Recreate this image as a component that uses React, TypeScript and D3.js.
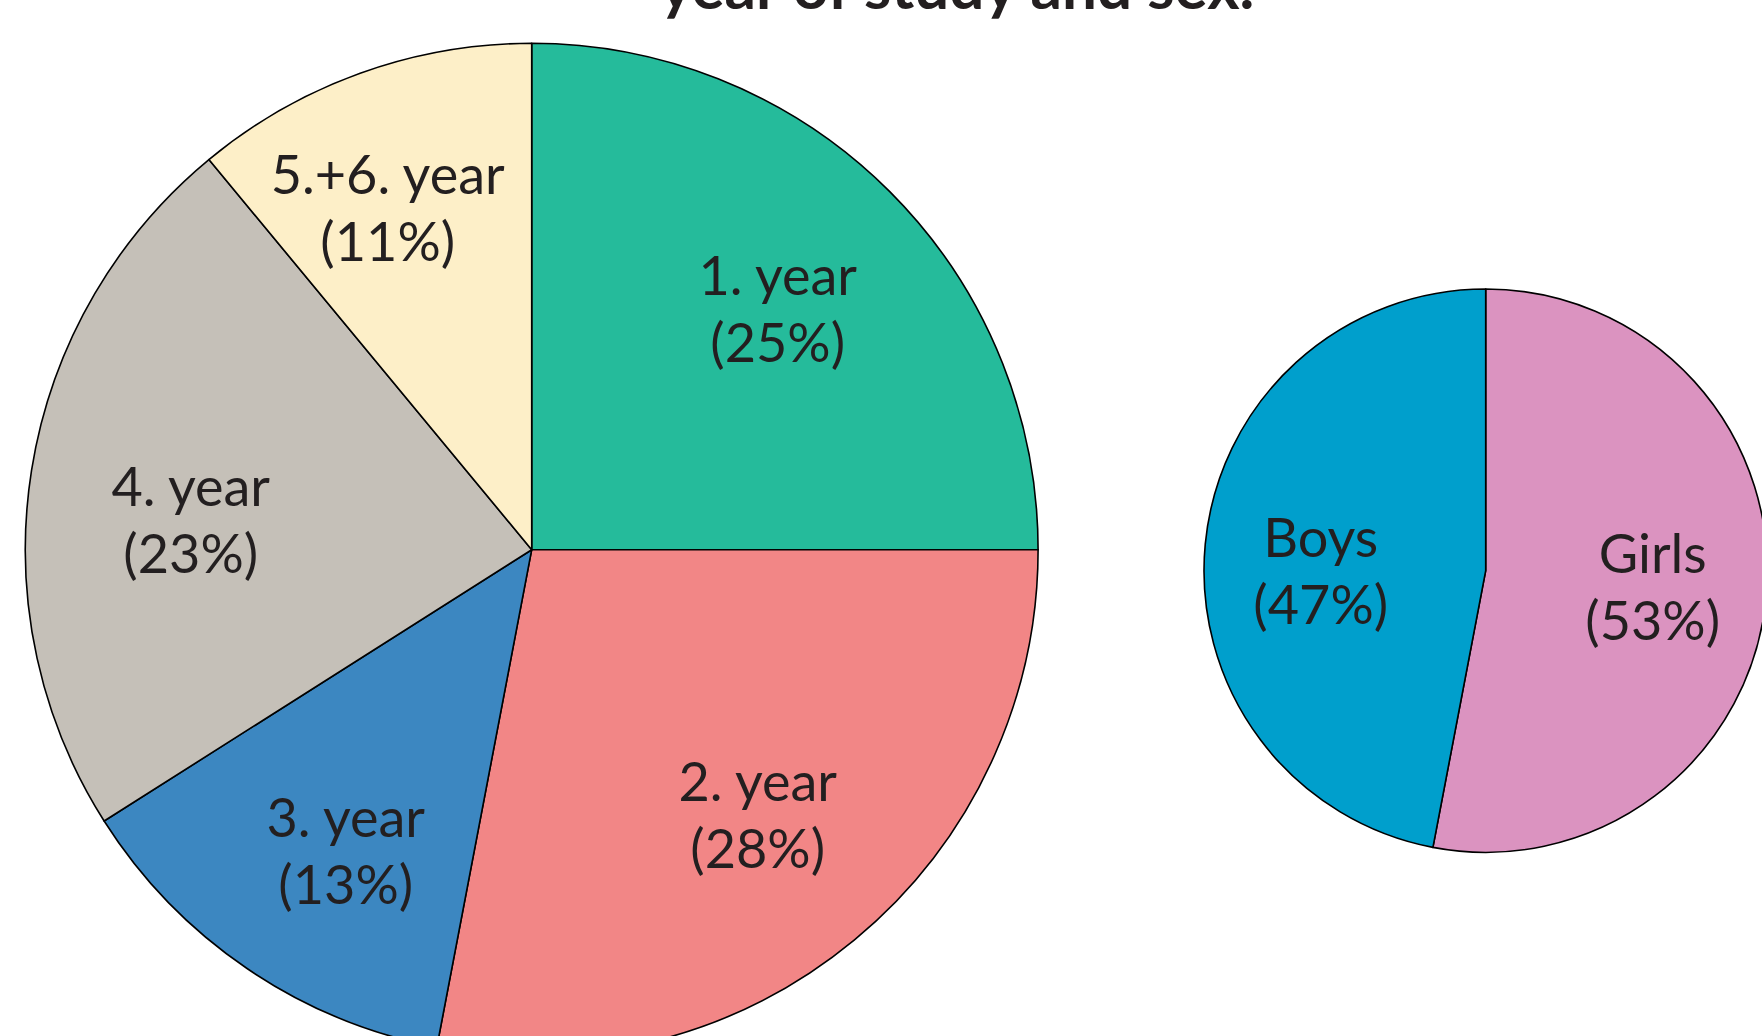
import React from "react";
import * as d3 from "d3";

const yearLabels = ["1. year", "2. year", "3. year", "4. year", "5.+6. year"];
const yearValues = [25, 28, 13, 23, 11];
const yearColors = ["#25BB9B", "#F28686", "#3C87C1", "#C5C0B8", "#FDEFC8"];

const sexLabels = ["Girls", "Boys"];
const sexValues = [53, 47];
const sexColors = ["#DB93C0", "#009FCC"];

const titleText = "year of study and sex.";

const W = 1762;
const H = 1036;
const FONT = "Lato, 'Open Sans', sans-serif";
const TEXT_COLOR = "#231F20";

// label layout: offsets of the first-line baseline from the pie centre
const yearLabelOffsets: [number, number][] = [
  [246, -255],
  [226, 251],
  [-186, 287],
  [-341, -44],
  [-144, -356],
];
const sexLabelOffsets: [number, number][] = [
  [167, 2],
  [-165, -14],
];

type PieSpec = {
  labels: string[];
  values: number[];
  colors: string[];
  cx: number;
  cy: number;
  r: number;
  offsets: [number, number][];
};

function Pie({ labels, values, colors, cx, cy, r, offsets }: PieSpec) {
  const pie = d3.pie<number>().sort(null).value((d) => d);
  const arcs = pie(values);
  const arcGen = d3.arc<d3.PieArcDatum<number>>().innerRadius(0).outerRadius(r);
  return (
    <g transform={`translate(${cx},${cy})`}>
      {arcs.map((a, i) => (
        <path key={i} d={arcGen(a) || ""} fill={colors[i]} stroke="#000" strokeWidth={1.6} strokeLinejoin="round" />
      ))}
      {arcs.map((a, i) => {
        const [x, y] = offsets[i];
        return (
          <text key={"t" + i} x={x} y={y} textAnchor="middle" fontFamily={FONT} fontSize={54} fill={TEXT_COLOR}>
            <tspan x={x} y={y}>{labels[i]}</tspan>
            <tspan x={x} y={y + 67}>{`(${values[i]}%)`}</tspan>
          </text>
        );
      })}
    </g>
  );
}

export default function App() {
  return (
    <svg
      width={W}
      height={H}
      viewBox={`0 0 ${W} ${H}`}
      style={{ position: "absolute", left: 0, top: 0, display: "block", background: "#fff" }}
    >
      <rect x={0} y={0} width={W} height={H} fill="#fff" />
      <text x={957} y={9} textAnchor="middle" fontFamily={FONT} fontWeight={700} fontSize={62} fill={TEXT_COLOR}>
        {titleText}
      </text>
      <Pie
        labels={yearLabels}
        values={yearValues}
        colors={yearColors}
        cx={531.7}
        cy={549.7}
        r={506.4}
        offsets={yearLabelOffsets}
      />
      <Pie
        labels={sexLabels}
        values={sexValues}
        colors={sexColors}
        cx={1485.7}
        cy={570.7}
        r={281.7}
        offsets={sexLabelOffsets}
      />
    </svg>
  );
}
